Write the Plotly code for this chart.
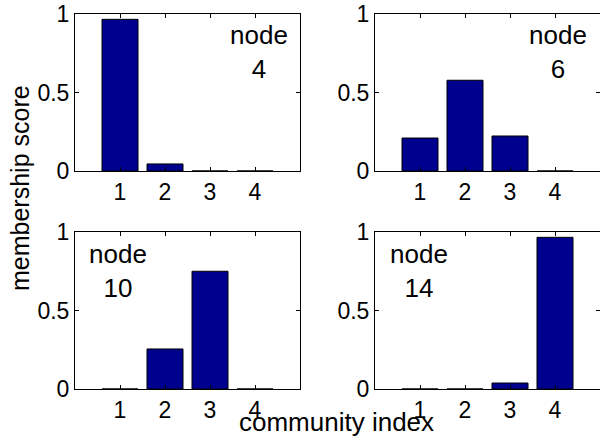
import plotly.graph_objects as go

communities = [1, 2, 3, 4]
node_ids = [4, 6, 10, 14]
score_node4 = [0.966, 0.045, 0.0, 0.0]
score_node6 = [0.21, 0.578, 0.223, 0.0]
score_node10 = [0.0, 0.255, 0.75, 0.0]
score_node14 = [0.0, 0.0, 0.038, 0.966]
y_tick_vals = [0, 0.5, 1]
y_tick_text = ["0", "0.5", "1"]
x_tick_vals = [1, 2, 3, 4]
x_tick_text = ["1", "2", "3", "4"]

series = [score_node4, score_node6, score_node10, score_node14]

FONT = "Liberation Sans, Arial, Helvetica, sans-serif"
BAR_COLOR = "#00008F"

W, H = 600, 438
# pixel boxes of the four axes (left, right, top, bottom)
boxes = [(75, 300, 14, 171), (375, 600, 14, 171),
         (75, 300, 232, 389), (375, 600, 232, 389)]
# annotation positions in data coords
ann_pos = [(4.09, 0.755), (4.07, 0.755), (0.96, 0.75), (0.98, 0.75)]

fig = go.Figure()
layout = dict(
    template="none",
    width=W, height=H,
    margin=dict(l=0, r=0, t=0, b=0, pad=0, autoexpand=False),
    paper_bgcolor="white", plot_bgcolor="white",
    showlegend=False,
    font=dict(family=FONT, size=23, color="black"),
    bargap=0.2,
)
annotations = []
for i, (vals, nid) in enumerate(zip(series, node_ids)):
    k = "" if i == 0 else str(i + 1)
    xa, ya = "x" + k, "y" + k
    fig.add_trace(go.Bar(
        x=communities, y=vals, xaxis=xa, yaxis=ya,
        marker=dict(color=BAR_COLOR, line=dict(color="black", width=1)),
        width=0.8,
    ))
    l, r, t, b = boxes[i]
    layout["xaxis" + k] = dict(
        domain=[l / W, r / W], range=[0, 5], anchor=ya,
        tickvals=x_tick_vals, ticktext=x_tick_text,
        ticks="inside", ticklen=4, tickwidth=1, tickcolor="black",
        showline=True, linecolor="black", linewidth=1, mirror="allticks",
        showgrid=False, zeroline=False, automargin=False,
        tickfont=dict(family=FONT, size=23, color="black"),
    )
    layout["yaxis" + k] = dict(
        domain=[(H - b) / H, (H - t) / H], range=[0, 1], anchor=xa,
        tickvals=y_tick_vals, ticktext=y_tick_text,
        ticks="inside", ticklen=4, tickwidth=1, tickcolor="black",
        showline=True, linecolor="black", linewidth=1, mirror="allticks",
        showgrid=False, zeroline=False, automargin=False,
        tickfont=dict(family=FONT, size=23, color="black"),
    )
    ax, ay = ann_pos[i]
    annotations.append(dict(
        x=ax, y=ay, xref=xa, yref=ya, text=f"node<br>{nid}",
        showarrow=False, xanchor="center", yanchor="middle", align="center",
        font=dict(family=FONT, size=26, color="black"),
    ))

annotations.append(dict(
    x=336 / W, y=(H - 422) / H, xref="paper", yref="paper",
    text="community index", showarrow=False,
    xanchor="center", yanchor="middle",
    font=dict(family=FONT, size=26, color="black"),
))
annotations.append(dict(
    x=20 / W, y=(H - 188) / H, xref="paper", yref="paper",
    text="membership score", showarrow=False, textangle=-90,
    xanchor="center", yanchor="middle",
    font=dict(family=FONT, size=25, color="black"),
))
layout["annotations"] = annotations
fig.update_layout(**layout)
fig.write_html(
    "out.html",
    config={"displayModeBar": False},
    post_script="document.body.style.margin='0';document.body.style.overflow='hidden';",
)
